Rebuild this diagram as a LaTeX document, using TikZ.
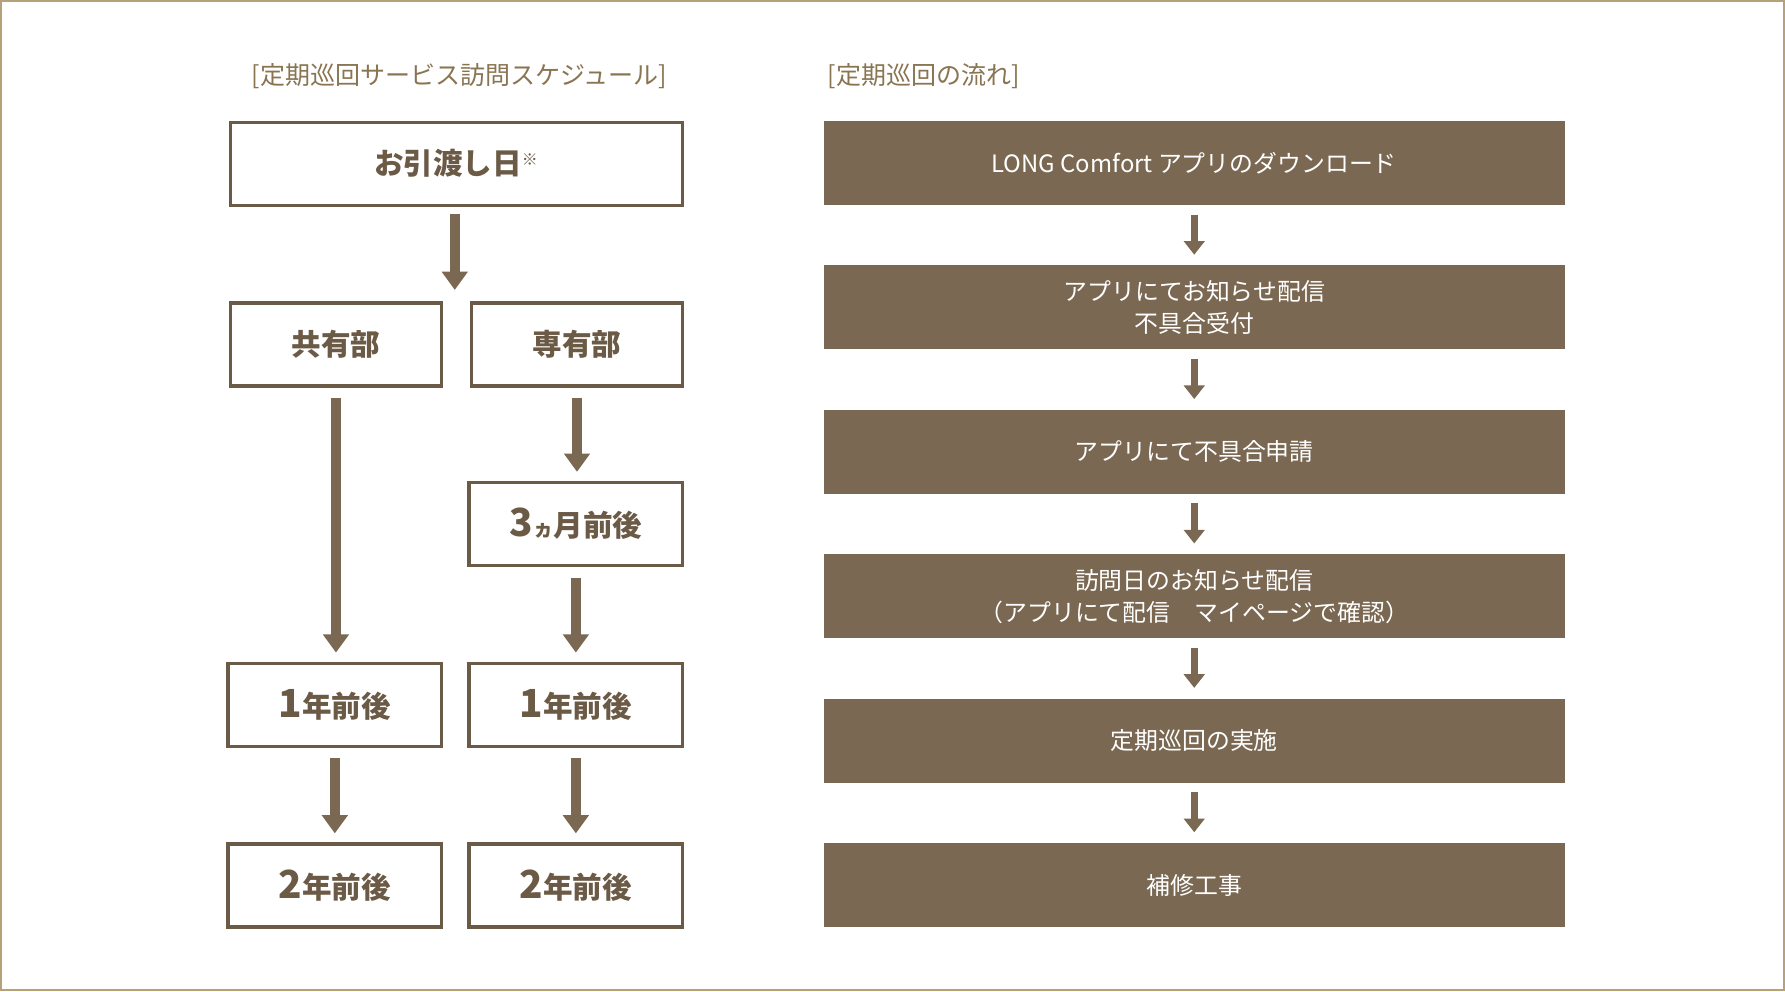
\documentclass[tikz,border=0pt]{standalone}
\usepackage{fontspec}
\setmainfont{Noto Sans CJK JP}
\newfontfamily\jpb[BoldFont={* Bold}]{Noto Sans CJK JP}
\usetikzlibrary{arrows.meta}
\definecolor{brn}{HTML}{7A6852}
\definecolor{dbrn}{HTML}{6B5A45}
\definecolor{gold}{HTML}{B5A27A}
\definecolor{ttl}{HTML}{8A7552}
\begin{document}
\begin{tikzpicture}[x=0.5pt,y=-0.5pt,
 obox/.style={draw=dbrn,line width=1.5pt,fill=white,text=dbrn,font=\fontsize{13}{15}\selectfont\bfseries,anchor=north west,inner sep=0pt},
 fbox/.style={fill=brn,text=white,font=\fontsize{10.5}{14}\selectfont,anchor=north west,inner sep=0pt,align=center},
 bigarr/.style={draw=brn,line width=4.5pt,-{Triangle[length=8pt,width=11pt]}},
 smarr/.style={draw=brn,line width=3pt,-{Triangle[length=6pt,width=9pt]},shorten <=8*0.5pt,shorten >=9*0.5pt},
 ttlf/.style={text=ttl,font=\fontsize{11}{13}\selectfont}]
\draw[gold,line width=1pt,fill=white] (0,0) rectangle (1568,870);
\node[ttlf] (t1) at (403,66) {[定期巡回サービス訪問スケジュール]};
\node[ttlf,anchor=west] (t2) at (720,66) {[定期巡回の流れ]};
\node[obox,minimum width=398*0.5pt,minimum height=73*0.5pt] (hand) at (200,105) {お引渡し日\textsuperscript{\fontsize{7}{8}\selectfont ※}};
\node[obox,minimum width=186*0.5pt,minimum height=73*0.5pt] (kyo) at (200,264) {共有部};
\node[obox,minimum width=186*0.5pt,minimum height=73*0.5pt] (sen) at (412,264) {専有部};
\node[obox,minimum width=188*0.5pt,minimum height=73*0.5pt] (m3) at (410,422) {{\fontsize{17}{17}\selectfont 3}{\fontsize{9}{9}\selectfont ヵ}月前後};
\node[obox,minimum width=188*0.5pt,minimum height=73*0.5pt] (l1) at (198,581) {{\fontsize{17}{17}\selectfont 1}年前後};
\node[obox,minimum width=188*0.5pt,minimum height=73*0.5pt] (r1) at (410,581) {{\fontsize{17}{17}\selectfont 1}年前後};
\node[obox,minimum width=188*0.5pt,minimum height=73*0.5pt] (l2) at (198,740) {{\fontsize{17}{17}\selectfont 2}年前後};
\node[obox,minimum width=188*0.5pt,minimum height=73*0.5pt] (r2) at (410,740) {{\fontsize{17}{17}\selectfont 2}年前後};
\coordinate (hb) at (399,178);
\coordinate (ht) at (399,264);
\draw[bigarr,shorten <=9*0.5pt,shorten >=10*0.5pt] (hb) -- (ht);
\draw[bigarr,shorten <=9*0.5pt,shorten >=8*0.5pt] (kyo.south) -- (kyo.south |- l1.north);
\draw[bigarr,shorten <=9*0.5pt,shorten >=8*0.5pt] (sen.south) -- (sen.south |- m3.north);
\draw[bigarr,shorten <=9*0.5pt,shorten >=8*0.5pt] (m3.south) -- (r1.north);
\draw[bigarr,shorten <=9*0.5pt,shorten >=8*0.5pt] (l1.south) -- (l2.north);
\draw[bigarr,shorten <=9*0.5pt,shorten >=8*0.5pt] (r1.south) -- (r2.north);
\foreach \n/\y/\t in {f1/105/{LONG Comfort アプリのダウンロード},f2/232/{アプリにてお知らせ配信\\不具合受付},f3/359/{アプリにて不具合申請},f4/486/{訪問日のお知らせ配信\\（アプリにて配信　マイページで確認）},f5/613/{定期巡回の実施},f6/740/{補修工事}}{
 \node[fbox,minimum width=652*0.5pt,minimum height=74*0.5pt] (\n) at (723,\y) {\t};}
\draw[smarr] (f1) -- (f2);
\draw[smarr] (f2) -- (f3);
\draw[smarr] (f3) -- (f4);
\draw[smarr] (f4) -- (f5);
\draw[smarr] (f5) -- (f6);
\end{tikzpicture}
\end{document}
